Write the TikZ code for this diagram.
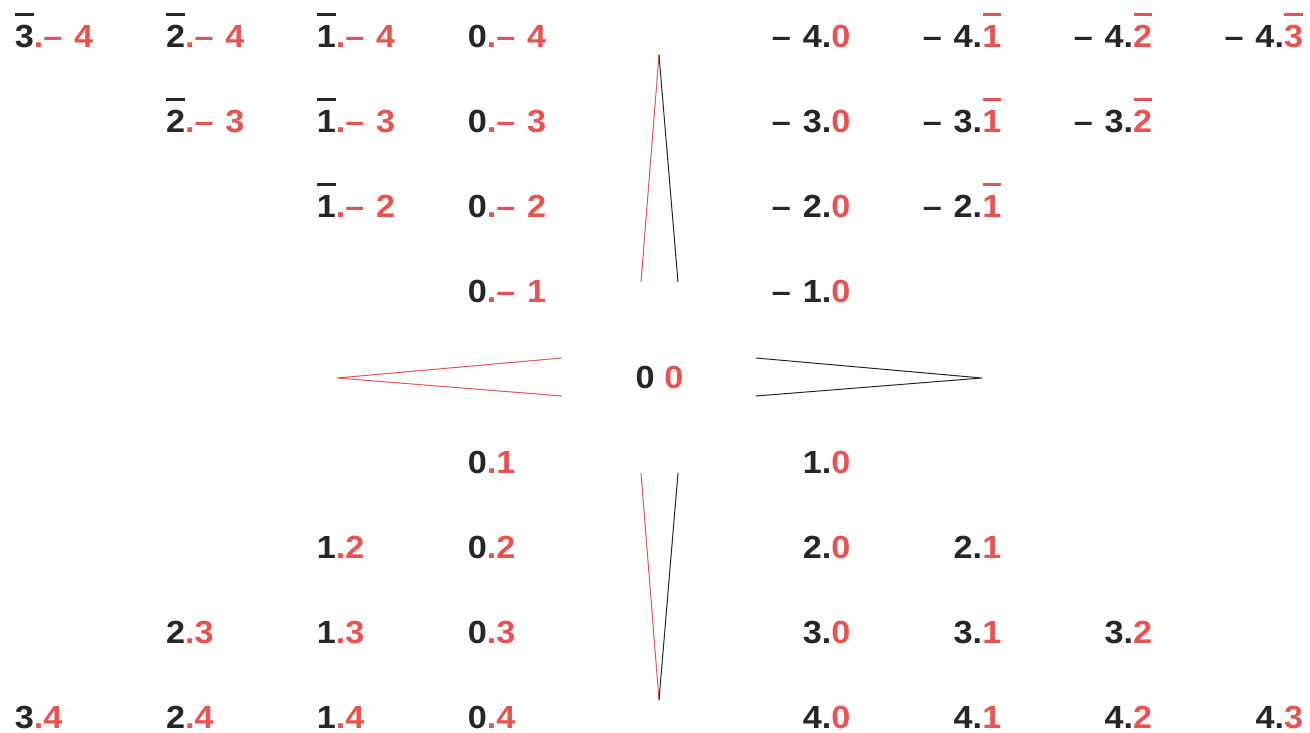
\documentclass[tikz,border=0pt]{standalone}
\usepackage{fontspec}
\usepackage{graphicx}
\setmainfont{Liberation Sans}
\definecolor{ink}{RGB}{38,38,38}
\definecolor{rd}{RGB}{232,82,80}
\newsavebox\dgbox
\newcommand\obar[1]{\sbox\dgbox{#1}\vbox{\offinterlineskip\hbox to\wd\dgbox{\hss\vrule width 0.96\wd\dgbox height 3pt depth 0pt\hss}\kern 9.5pt\box\dgbox}}
\newcommand\dsh{–\kern 11pt}
\newcommand\T[1]{\scalebox{1.07}[1]{#1}}
\begin{document}
\begin{tikzpicture}[x=1pt,y=-1pt,
  lbl/.style={inner sep=0pt, font=\fontsize{32}{32}\selectfont\bfseries, text=ink},
  lw/.style={lbl, anchor=base west},
  re/.style={lbl, anchor=base east},
  redline/.style={draw=rd, line width=1pt},
  blkline/.style={draw=ink, line width=1pt}]
\useasboundingbox (0,0) rectangle (1310,733);
% row 0
\node[lw] (l00) at (14.7,47.7) {\T{\obar{3}\textcolor{rd}{.\dsh 4}}};
\node[lw] (l01) at (165.85,47.7) {\T{\obar{2}\textcolor{rd}{.\dsh 4}}};
\node[lw] (l02) at (316.7,47.7) {\T{\obar{1}\textcolor{rd}{.\dsh 4}}};
\node[lw] (l03) at (467.55,47.7) {\T{0\textcolor{rd}{.\dsh 4}}};
\node[re] (r00) at (850.6,47.7) {\T{\dsh 4.\textcolor{rd}{0}}};
\node[re] (r01) at (1001.5,47.7) {\T{\dsh 4.\textcolor{rd}{\obar{1}}}};
\node[re] (r02) at (1152.4,47.7) {\T{\dsh 4.\textcolor{rd}{\obar{2}}}};
\node[re] (r03) at (1303.3,47.7) {\T{\dsh 4.\textcolor{rd}{\obar{3}}}};
% row 1
\node[lw] (l11) at (165.85,132.8) {\T{\obar{2}\textcolor{rd}{.\dsh 3}}};
\node[lw] (l12) at (316.7,132.8) {\T{\obar{1}\textcolor{rd}{.\dsh 3}}};
\node[lw] (l13) at (467.55,132.8) {\T{0\textcolor{rd}{.\dsh 3}}};
\node[re] (r10) at (850.6,132.8) {\T{\dsh 3.\textcolor{rd}{0}}};
\node[re] (r11) at (1001.5,132.8) {\T{\dsh 3.\textcolor{rd}{\obar{1}}}};
\node[re] (r12) at (1152.4,132.8) {\T{\dsh 3.\textcolor{rd}{\obar{2}}}};
% row 2
\node[lw] (l22) at (316.7,217.9) {\T{\obar{1}\textcolor{rd}{.\dsh 2}}};
\node[lw] (l23) at (467.55,217.9) {\T{0\textcolor{rd}{.\dsh 2}}};
\node[re] (r20) at (850.6,217.9) {\T{\dsh 2.\textcolor{rd}{0}}};
\node[re] (r21) at (1001.5,217.9) {\T{\dsh 2.\textcolor{rd}{\obar{1}}}};
% row 3
\node[lw] (l33) at (467.55,302.9) {\T{0\textcolor{rd}{.\dsh 1}}};
\node[re] (r30) at (850.6,302.9) {\T{\dsh 1.\textcolor{rd}{0}}};
% row 4 centre
\node[lbl, anchor=base] (c) at (659.5,388.5) {\T{0 \textcolor{rd}{0}}};
% row 5
\node[lw] (l53) at (467.55,473.1) {\T{0\textcolor{rd}{.1}}};
\node[re] (r50) at (850.6,473.1) {\T{1.\textcolor{rd}{0}}};
% row 6
\node[lw] (l62) at (316.7,558.2) {\T{1\textcolor{rd}{.2}}};
\node[lw] (l63) at (467.55,558.2) {\T{0\textcolor{rd}{.2}}};
\node[re] (r60) at (850.6,558.2) {\T{2.\textcolor{rd}{0}}};
\node[re] (r61) at (1001.5,558.2) {\T{2.\textcolor{rd}{1}}};
% row 7
\node[lw] (l71) at (165.85,643.3) {\T{2\textcolor{rd}{.3}}};
\node[lw] (l72) at (316.7,643.3) {\T{1\textcolor{rd}{.3}}};
\node[lw] (l73) at (467.55,643.3) {\T{0\textcolor{rd}{.3}}};
\node[re] (r70) at (850.6,643.3) {\T{3.\textcolor{rd}{0}}};
\node[re] (r71) at (1001.5,643.3) {\T{3.\textcolor{rd}{1}}};
\node[re] (r72) at (1152.4,643.3) {\T{3.\textcolor{rd}{2}}};
% row 8
\node[lw] (l80) at (14.7,728.3) {\T{3\textcolor{rd}{.4}}};
\node[lw] (l81) at (165.85,728.3) {\T{2\textcolor{rd}{.4}}};
\node[lw] (l82) at (316.7,728.3) {\T{1\textcolor{rd}{.4}}};
\node[lw] (l83) at (467.55,728.3) {\T{0\textcolor{rd}{.4}}};
\node[re] (r80) at (850.6,728.3) {\T{4.\textcolor{rd}{0}}};
\node[re] (r81) at (1001.5,728.3) {\T{4.\textcolor{rd}{1}}};
\node[re] (r82) at (1152.4,728.3) {\T{4.\textcolor{rd}{2}}};
\node[re] (r83) at (1303.3,728.3) {\T{4.\textcolor{rd}{3}}};
% spikes
\coordinate (ttip) at (659,55);
\coordinate (tl) at (641,282);
\coordinate (tr) at (678,282);
\coordinate (btip) at (659,700);
\coordinate (bl) at (641,473);
\coordinate (br) at (678,473);
\coordinate (ltip) at (337,378);
\coordinate (lu) at (562,358);
\coordinate (ld) at (562,396);
\coordinate (rtip) at (982,378);
\coordinate (ru) at (756,358);
\coordinate (rdn) at (756,396);
\draw[redline] (tl) -- (ttip);
\draw[blkline] (ttip) -- (tr);
\draw[redline] (bl) -- (btip);
\draw[blkline] (br) -- (btip);
\draw[redline] (lu) -- (ltip) -- (ld);
\draw[blkline] (ru) -- (rtip) -- (rdn);
\end{tikzpicture}
\end{document}
